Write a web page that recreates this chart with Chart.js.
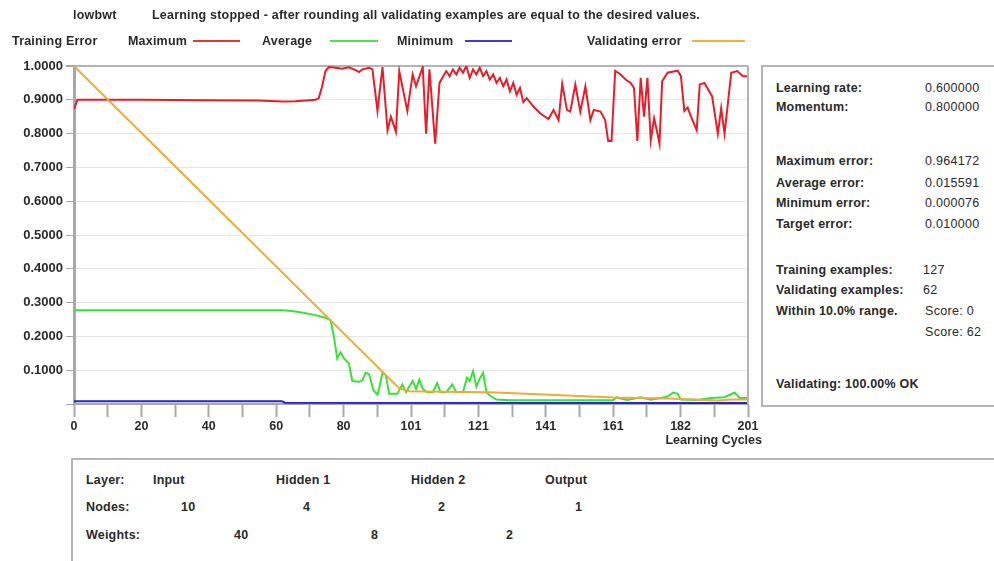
<!DOCTYPE html>
<html>
<head>
<meta charset="utf-8">
<script src="https://cdn.jsdelivr.net/npm/chart.js@4.4.1/dist/chart.umd.min.js"></script>
<style>
  body { margin:0; background:#fff; font-family:"Liberation Sans", Arial, sans-serif; }
  #wrap { position:relative; width:994px; height:561px; overflow:hidden; }
  canvas { position:absolute; left:0; top:0; }
  .t { position:absolute; font-size:12.5px; line-height:14px; letter-spacing:0.2px; color:#2a2a2a; white-space:nowrap; font-weight:bold; }
  .n { font-weight:normal; letter-spacing:0.3px; }
  .ln { position:absolute; height:2px; }
  .box { position:absolute; border:2px solid #b4b4b4; background:#fff; }
</style>
</head>
<body>
<div id="wrap">
  <canvas id="err-chart" width="994" height="561"></canvas>

  <div class="t" style="left:73px;top:8px">lowbwt</div>
  <div class="t" style="left:152px;top:8px">Learning stopped - after rounding all validating examples are equal to the desired values.</div>

  <div class="t" style="left:12px;top:34px">Training Error</div>
  <div class="t" style="left:128px;top:34px">Maximum</div>
  <div class="ln" style="left:193px;top:40px;width:47px;background:#e8323a"></div>
  <div class="t" style="left:262px;top:34px">Average</div>
  <div class="ln" style="left:330px;top:40px;width:48px;background:#4ee04e"></div>
  <div class="t" style="left:397px;top:34px">Minimum</div>
  <div class="ln" style="left:465px;top:40px;width:47px;background:#3a3ad8"></div>
  <div class="t" style="left:587px;top:34px">Validating error</div>
  <div class="ln" style="left:692px;top:40px;width:53px;background:#f0b040"></div>

  <!-- side panel -->
  <div class="box" style="left:761px;top:65px;width:260px;height:338px"></div>
  <div class="t" style="left:776px;top:81px">Learning rate:</div>
  <div class="t n" style="left:925px;top:81px">0.600000</div>
  <div class="t" style="left:776px;top:100px">Momentum:</div>
  <div class="t n" style="left:925px;top:100px">0.800000</div>
  <div class="t" style="left:776px;top:154px">Maximum error:</div>
  <div class="t n" style="left:925px;top:154px">0.964172</div>
  <div class="t" style="left:776px;top:176px">Average error:</div>
  <div class="t n" style="left:925px;top:176px">0.015591</div>
  <div class="t" style="left:776px;top:196px">Minimum error:</div>
  <div class="t n" style="left:925px;top:196px">0.000076</div>
  <div class="t" style="left:776px;top:217px">Target error:</div>
  <div class="t n" style="left:925px;top:217px">0.010000</div>
  <div class="t" style="left:776px;top:263px">Training examples:</div>
  <div class="t n" style="left:923px;top:263px">127</div>
  <div class="t" style="left:776px;top:283px">Validating examples:</div>
  <div class="t n" style="left:923px;top:283px">62</div>
  <div class="t" style="left:776px;top:304px">Within 10.0% range.</div>
  <div class="t n" style="left:925px;top:304px">Score: 0</div>
  <div class="t n" style="left:925px;top:325px">Score: 62</div>
  <div class="t" style="left:776px;top:377px">Validating: 100.00% OK</div>

  <!-- bottom panel -->
  <div class="box" style="left:71px;top:458px;width:960px;height:140px"></div>
  <div class="t" style="left:86px;top:473px">Layer:</div>
  <div class="t" style="left:153px;top:473px">Input</div>
  <div class="t" style="left:276px;top:473px">Hidden 1</div>
  <div class="t" style="left:411px;top:473px">Hidden 2</div>
  <div class="t" style="left:545px;top:473px">Output</div>
  <div class="t" style="left:86px;top:500px">Nodes:</div>
  <div class="t" style="left:181px;top:500px">10</div>
  <div class="t" style="left:303px;top:500px">4</div>
  <div class="t" style="left:438px;top:500px">2</div>
  <div class="t" style="left:575px;top:500px">1</div>
  <div class="t" style="left:86px;top:528px">Weights:</div>
  <div class="t" style="left:234px;top:528px">40</div>
  <div class="t" style="left:371px;top:528px">8</div>
  <div class="t" style="left:506px;top:528px">2</div>
</div>

<script>
const errChart = document.getElementById('err-chart');

const cycleMax = 201;
const cycleLabels = ['0', '20', '40', '60', '80', '101', '121', '141', '161', '182', '201'];

// [cycle, error]
const maxError = [
  [0,0.872],[1,0.900],[20,0.900],[40,0.899],[55,0.898],[62,0.895],[66,0.896],[72,0.900],
  [73,0.905],[74,0.94],[75,0.985],[76,0.997],[78,0.995],[80,0.992],[82,0.996],[84,0.988],
  [85,0.982],[86,0.99],[88,0.995],[89,0.99],[90.5,0.867],[92,0.997],[93.5,0.81],[94.5,0.85],
  [96,0.805],[97,0.985],[99.4,0.867],[101,0.975],[102,0.94],[104,0.997],[105,0.80],[106,0.99],
  [107.7,0.77],[109,0.95],[111,0.985],[112,0.97],[113,0.99],[114,0.975],[115,0.995],[116,0.98],
  [117,1.0],[118,0.965],[119,0.99],[120,0.975],[121,0.995],[122,0.97],[123,0.985],[124,0.96],
  [125,0.975],[126,0.95],[127,0.965],[128,0.94],[129,0.96],[130,0.925],[131,0.95],[132,0.915],
  [133,0.935],[134,0.893],[135,0.905],[137,0.88],[139,0.86],[141.5,0.843],[143,0.87],[144.5,0.84],
  [145.6,0.947],[147,0.87],[148,0.865],[149.5,0.945],[151,0.865],[152.5,0.94],[154,0.84],[155,0.87],
  [157,0.865],[158.4,0.84],[159.3,0.778],[160.3,0.778],[161.4,0.986],[163,0.975],[164.5,0.96],[166,0.95],
  [167,0.935],[168,0.778],[169,0.965],[170,0.85],[171,0.965],[172,0.78],[173,0.845],[173.8,0.81],
  [174.6,0.77],[175.4,0.955],[177,0.98],[180,0.986],[181,0.97],[182,0.867],[183,0.877],[184,0.85],
  [185.7,0.81],[186.6,0.945],[188,0.95],[190.3,0.91],[192,0.80],[193,0.875],[194,0.80],[196,0.98],
  [197.8,0.985],[199.5,0.97],[201,0.97]
];

const avgError = [
  [0,0.277],[20,0.277],[40,0.277],[62,0.277],[65,0.275],[68,0.271],[72,0.263],[75,0.255],
  [76.5,0.248],[77.5,0.20],[78.5,0.135],[79.5,0.153],[80.5,0.135],[82,0.12],[83,0.068],[85,0.066],
  [86,0.07],[87,0.093],[88,0.088],[89.3,0.04],[90.5,0.028],[91,0.045],[92,0.093],[93,0.085],
  [94,0.03],[96.4,0.03],[97.9,0.058],[99,0.035],[100,0.052],[101,0.068],[102,0.045],[103,0.072],
  [104,0.045],[105.3,0.035],[107,0.035],[108.3,0.062],[109.3,0.035],[111,0.035],[112.8,0.058],[114,0.035],
  [116,0.035],[117.2,0.078],[118,0.068],[119,0.097],[120,0.052],[121,0.075],[122,0.092],[123,0.035],
  [124,0.025],[126,0.013],[130,0.011],[145,0.011],[160.8,0.011],[161.8,0.02],[163,0.016],[165,0.012],
  [169,0.02],[172,0.013],[175,0.018],[177,0.022],[178.7,0.034],[180,0.03],[181,0.013],[186,0.012],
  [190,0.018],[194,0.02],[197,0.034],[198.5,0.018],[201,0.018]
];

const minError = [[0,0.008],[62,0.008],[63,0.004],[201,0.003]];

const validError = [
  [0,1.0],[97,0.046],[100,0.038],[110,0.036],[124,0.035],[140,0.028],[161,0.019],
  [177,0.016],[192,0.01],[196,0.013],[201,0.013]
];

const toPts = arr => arr.map(p => ({ x: p[0], y: p[1] }));

const tickFont = { family: '"Liberation Sans", Arial', size: 12.5, weight: 'bold' };

// right edge of the plot + "Learning Cycles" caption
const framePlugin = {
  id: 'frame',
  afterDraw(chart) {
    const { ctx, chartArea: a } = chart;
    ctx.save();
    ctx.strokeStyle = '#b4b4b4';
    ctx.lineWidth = 2;
    ctx.beginPath();
    ctx.moveTo(a.right, a.top);
    ctx.lineTo(a.right, a.bottom);
    ctx.stroke();
    ctx.fillStyle = '#2a2a2a';
    ctx.font = 'bold 12.5px "Liberation Sans", Arial';
    ctx.textAlign = 'right';
    ctx.textBaseline = 'middle';
    ctx.fillText('Learning Cycles', a.right + 14, a.bottom + 37);
    ctx.restore();
  }
};

new Chart(errChart, {
  type: 'line',
  data: {
    datasets: [
      { label: 'Validating error', data: toPts(validError), borderColor: '#f0aa38', order: 0 },
      { label: 'Minimum', data: toPts(minError), borderColor: '#2424cc', order: 3 },
      { label: 'Average', data: toPts(avgError), borderColor: '#3ae03a', order: 2 },
      { label: 'Maximum', data: toPts(maxError), borderColor: '#e61e2a', order: 1 }
    ]
  },
  options: {
    responsive: false,
    animation: false,
    layout: { padding: { left: 0, top: 66, right: 246, bottom: 117 } },
    elements: {
      line: { borderWidth: 2, tension: 0 },
      point: { radius: 0 }
    },
    plugins: { legend: { display: false }, tooltip: { enabled: false } },
    scales: {
      x: {
        type: 'linear',
        min: 0,
        max: cycleMax,
        afterFit: s => { s.height = 40; },
        afterBuildTicks: s => {
          s.ticks = [];
          for (let i = 0; i <= 20; i++) s.ticks.push({ value: i * cycleMax / 20 });
        },
        ticks: {
          autoSkip: false,
          maxRotation: 0,
          padding: 2,
          color: '#2a2a2a',
          font: tickFont,
          callback: (v, i) => (i % 2 === 0 ? cycleLabels[i / 2] : '')
        },
        grid: { drawOnChartArea: false, drawTicks: true, tickLength: 13, tickColor: '#a8a8a8', tickWidth: 2 },
        border: { color: '#a8a8a8', width: 2 }
      },
      y: {
        min: 0,
        max: 1,
        afterFit: s => { s.width = 74; },
        ticks: {
          stepSize: 0.1,
          padding: 3,
          color: '#2a2a2a',
          font: { family: '"Liberation Sans", Arial', size: 13, weight: 'bold' },
          callback: v => (v < 0.05 ? '' : v.toFixed(4))
        },
        grid: {
          color: c => (c.tick && c.tick.value > 0.99 ? '#b4b4b4' : '#e6e6e6'),
          lineWidth: c => (c.tick && c.tick.value > 0.99 ? 2 : 1),
          tickLength: 8,
          tickColor: '#a8a8a8'
        },
        border: { color: '#a8a8a8', width: 3 }
      }
    }
  },
  plugins: [framePlugin]
});
</script>
</body>
</html>
